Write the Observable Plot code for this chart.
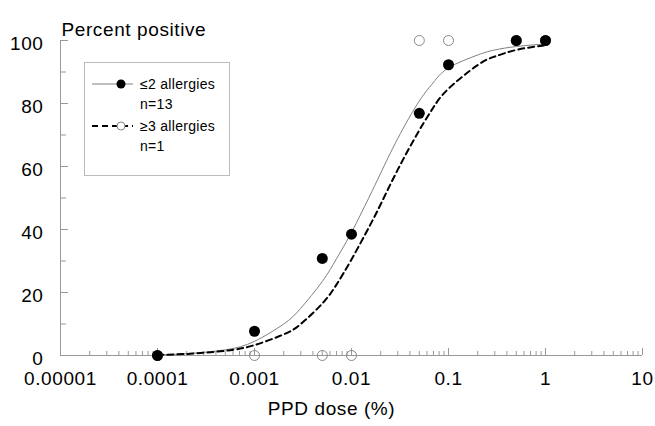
<!DOCTYPE html>
<html><head><meta charset="utf-8">
<script src="https://cdn.jsdelivr.net/npm/d3@7"></script>
<script src="https://cdn.jsdelivr.net/npm/@observablehq/plot@0.6"></script>
<style>
body{margin:0;background:#fff;}
#wrap{position:relative;width:655px;height:426px;}
#legend{position:absolute;left:84px;top:62px;}
</style></head><body><div id="wrap"></div>
<script>
// Axis ticks and labels
const xTicks = [0.00001, 0.0001, 0.001, 0.01, 0.1, 1, 10];
const xTickLabels = ["0.00001", "0.0001", "0.001", "0.01", "0.1", "1", "10"];
const minorMultipliers = [2, 3, 4, 5, 6, 7, 8, 9];
const yTicks = [0, 20, 40, 60, 80, 100];
const yMinorTicks = [10, 30, 50, 70, 90];

// Observed points: ≤2 allergies (n=13)
const doseLow = [0.0001, 0.001, 0.005, 0.01, 0.05, 0.1, 0.5, 1];
const pctLow = [0, 7.7, 30.8, 38.5, 76.9, 92.3, 100, 100];
// Observed points: ≥3 allergies (n=1)
const doseHigh = [0.0001, 0.001, 0.005, 0.01, 0.05, 0.1, 0.5, 1];
const pctHigh = [0, 0, 0, 0, 100, 100, 100, 100];

// Fitted curves
const curveDose = [0.0001, 0.0002, 0.0005, 0.001, 0.002, 0.003, 0.005, 0.007, 0.01, 0.015, 0.02, 0.03, 0.05, 0.07, 0.1, 0.2, 0.3, 0.5, 1];
const curveLow  = [0.2, 0.6, 1.8, 4.5, 10, 15, 23.5, 30.7, 39.1, 49.9, 57.9, 68.9, 80.8, 86.7, 91.3, 95.4, 97, 98.1, 98.9];
const curveHigh = [0.2, 0.5, 1.5, 3.3, 6.7, 10, 16.5, 22.5, 30.5, 40.5, 48, 59, 71.5, 78.8, 84.7, 92.2, 94.9, 97, 98.5];

const legendItems = [
  {label: "\u22642 allergies", n: "n=13", dashed: false},
  {label: "\u22653 allergies", n: "n=1", dashed: true}
];

const FONT = "'Liberation Sans', Arial, sans-serif";
const GRAY = "#999";

const xMinor = [];
for (const t of xTicks.slice(0, -1)) for (const m of minorMultipliers) xMinor.push(t * m);

const low = doseLow.map((d, i) => ({dose: d, pct: pctLow[i]}));
const high = doseHigh.map((d, i) => ({dose: d, pct: pctHigh[i]}));
const fitLow = curveDose.map((d, i) => ({dose: d, pct: curveLow[i]}));
const fitHigh = curveDose.map((d, i) => ({dose: d, pct: curveHigh[i]}));
const xLab = xTicks.map((d, i) => ({dose: d, label: xTickLabels[i]}));

const chart = Plot.plot({
  width: 655,
  height: 426,
  marginLeft: 60,
  marginRight: 13,
  marginTop: 40,
  marginBottom: 71,
  style: {fontFamily: FONT, fontSize: "19px", letterSpacing: "0.6px", color: "black", background: "white", overflow: "visible"},
  x: {type: "log", domain: [0.00001, 10]},
  y: {domain: [0, 100]},
  marks: [
    Plot.ruleX([0.00001], {stroke: GRAY}),
    Plot.ruleY([0], {stroke: GRAY}),
    Plot.axisY(yTicks, {tickSize: -8, stroke: GRAY, fill: "none"}),
    Plot.axisY(yMinorTicks, {tickSize: -6, stroke: GRAY, fill: "none"}),
    Plot.axisY(yTicks, {tickSize: 0, tickPadding: 17, dy: 3, label: null, tickFormat: d => String(d), fill: "black"}),
    Plot.axisX(xTicks, {tickSize: -7, stroke: GRAY, fill: "none"}),
    Plot.axisX(xMinor, {tickSize: -4, stroke: GRAY, fill: "none"}),
    Plot.text(xLab, {x: "dose", y: () => 0, text: "label", textAnchor: "middle", lineAnchor: "middle", dy: 23, fontSize: 19}),
    Plot.line(fitLow, {x: "dose", y: "pct", stroke: "#808080", strokeWidth: 1, curve: "natural"}),
    Plot.line(fitHigh, {x: "dose", y: "pct", stroke: "black", strokeWidth: 2, strokeDasharray: "6,4", curve: "natural"}),
    Plot.dot(high, {x: "dose", y: "pct", r: 5, stroke: "#888", fill: "none", strokeWidth: 1}),
    Plot.dot(low, {x: "dose", y: "pct", r: 5.5, fill: "black", stroke: "none"}),
    Plot.text(["Percent positive"], {text: d => d, frameAnchor: "top-left", textAnchor: "start", dx: 1, dy: -18.5, fontSize: 19}),
    Plot.text(["PPD dose (%)"], {text: d => d, frameAnchor: "bottom", dx: -20, dy: 59, fontSize: 19})
  ]
});
document.getElementById("wrap").appendChild(chart);

// Legend (overlay)
const lg = d3.select("#wrap").append("svg").attr("id", "legend")
  .attr("width", 146).attr("height", 114)
  .style("font-family", FONT).style("font-size", "14px").style("letter-spacing", "0.3px");
lg.append("rect").attr("x", 0.5).attr("y", 0.5).attr("width", 145).attr("height", 113)
  .attr("fill", "white").attr("stroke", "#bbb");
legendItems.forEach((it, i) => {
  const cy = 22 + i * 42;
  lg.append("line").attr("x1", 8).attr("x2", 49).attr("y1", cy).attr("y2", cy)
    .attr("stroke", it.dashed ? "black" : "#808080")
    .attr("stroke-width", it.dashed ? 2 : 1)
    .attr("stroke-dasharray", it.dashed ? "6,4" : null);
  lg.append("circle").attr("cx", 37).attr("cy", cy).attr("r", it.dashed ? 4 : 4.5)
    .attr("fill", it.dashed ? "white" : "black")
    .attr("stroke", it.dashed ? "#888" : "none");
  lg.append("text").attr("x", 56).attr("y", cy + 5).text(it.label);
  lg.append("text").attr("x", 56).attr("y", cy + 25).text(it.n);
});
</script></body></html>
